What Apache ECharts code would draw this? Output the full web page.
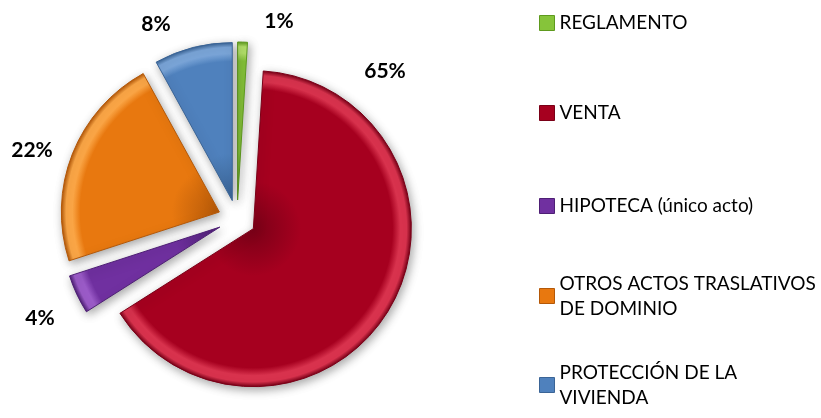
<!DOCTYPE html>
<html>
<head>
<meta charset="UTF-8">
<title>Distribución de actos</title>
<script src="https://cdn.jsdelivr.net/npm/echarts@6/dist/echarts.min.js"></script>
<style>
    html, body { margin: 0; padding: 0; background: #fff; }
    #chart { width: 821px; height: 418px; }
</style>
</head>
<body>
<div id="chart"></div>
<script>
// datos del gráfico
var categorias = ['REGLAMENTO', 'VENTA', 'HIPOTECA (único acto)', 'OTROS ACTOS TRASLATIVOS DE DOMINIO', 'PROTECCIÓN DE LA VIVIENDA'];
var valores = [1, 65, 4, 22, 8];
var etiquetasLeyenda = ['REGLAMENTO', 'VENTA', 'HIPOTECA (único acto)', 'OTROS ACTOS TRASLATIVOS\nDE DOMINIO', 'PROTECCIÓN DE LA\nVIVIENDA'];

// colores: [oscuro, base, claro]
var colores = [
    ['#5e9a1e', '#86c43a', '#b5e36b'],
    ['#7a0017', '#a6001f', '#d8324d'],
    ['#4e1f75', '#7030a0', '#9b5bc8'],
    ['#b45808', '#e8780f', '#fba646'],
    ['#3a6496', '#4f81bd', '#7aa5d8']
];

// posiciones de las etiquetas de porcentaje (px)
var posEtiquetas = [[279, 21], [385, 71], [40, 318], [32, 150], [156, 24]];
var topLeyenda = [23, 113, 206, 296, 385];

var centro = [237, 219];
var radio = 158;

var chart = echarts.init(document.getElementById('chart'), null, { renderer: 'canvas' });

function relleno(c) {
    return {
        type: 'radial',
        x: centro[0], y: centro[1], r: radio,
        global: true,
        colorStops: [
            { offset: 0, color: c[0] },
            { offset: 0.3, color: c[1] },
            { offset: 0.88, color: c[1] },
            { offset: 0.93, color: c[2] },
            { offset: 0.97, color: c[2] },
            { offset: 1, color: c[0] }
        ]
    };
}

var datos = categorias.map(function (nombre, i) {
    return {
        name: nombre,
        value: valores[i],
        selected: true,
        itemStyle: {
            color: relleno(colores[i]),
            borderColor: colores[i][0],
            borderWidth: 1
        }
    };
});

// serie invisible solo para colocar las etiquetas de porcentaje
var datosEtiquetas = categorias.map(function (nombre, i) {
    return { name: nombre, value: valores[i] };
});

// una leyenda por elemento para poder ubicar cada una
var leyendas = categorias.map(function (nombre, i) {
    var dosLineas = etiquetasLeyenda[i].indexOf('\n') >= 0;
    var icono = dosLineas ? 37.5 : 12.5;
    return {
        data: [{ name: nombre, itemStyle: { color: colores[i][1], borderColor: colores[i][0], borderWidth: 1 } }],
        orient: 'vertical',
        left: 539,
        top: topLeyenda[i] - icono,
        padding: 0,
        itemWidth: 15,
        itemHeight: 15,
        icon: 'rect',
        selectedMode: false,
        formatter: function () { return etiquetasLeyenda[i]; },
        textStyle: {
            fontFamily: 'Lato',
            fontSize: 19,
            lineHeight: 25,
            color: '#000',
            padding: dosLineas ? [25, 0, 0, 0] : 0
        }
    };
});

var option = {
    animation: false,
    backgroundColor: '#fff',
    legend: leyendas,
    series: [
        {
            type: 'pie',
            center: centro,
            radius: radio,
            startAngle: 90,
            clockwise: true,
            selectedMode: 'multiple',
            selectedOffset: 19,
            data: datos,
            itemStyle: {
                shadowBlur: 10,
                shadowColor: 'rgba(0,0,0,0.35)',
                shadowOffsetX: 2,
                shadowOffsetY: 3
            },
            label: { show: false },
            labelLine: { show: false },
            emphasis: { disabled: true }
        },
        {
            type: 'pie',
            center: centro,
            radius: radio,
            startAngle: 90,
            clockwise: true,
            silent: true,
            selectedMode: false,
            data: datosEtiquetas,
            itemStyle: { color: 'rgba(0,0,0,0)' },
            avoidLabelOverlap: false,
            label: {
                show: true,
                position: 'outside',
                formatter: '{d}%',
                fontFamily: 'Lato',
                fontWeight: 'bold',
                fontSize: 21,
                color: '#000'
            },
            labelLine: { show: false },
            labelLayout: function (params) {
                var p = posEtiquetas[params.dataIndex];
                return { x: p[0], y: p[1], align: 'center', verticalAlign: 'middle' };
            },
            emphasis: { disabled: true }
        }
    ]
};

chart.setOption(option);
</script>
</body>
</html>
